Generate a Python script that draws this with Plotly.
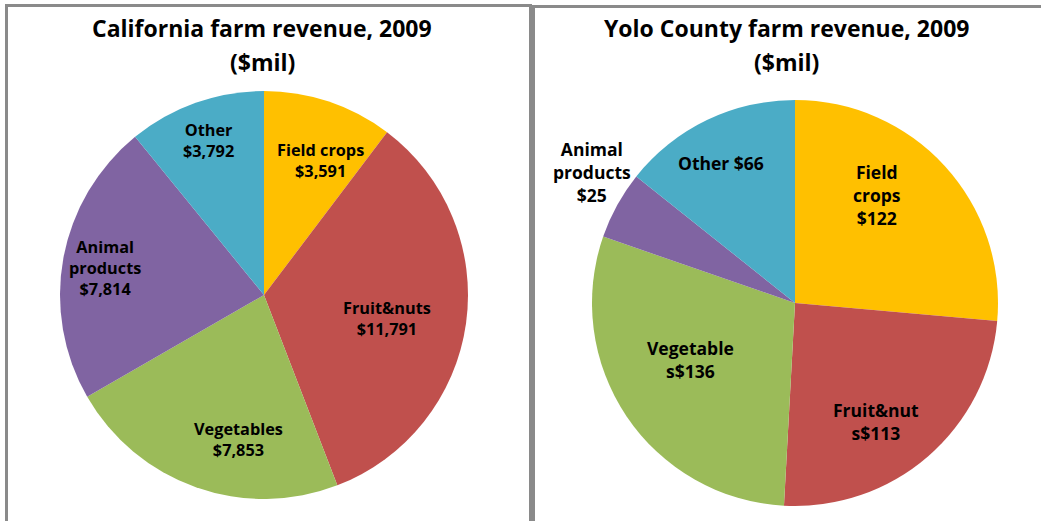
import plotly.graph_objects as go

# ---- data ----
ca_categories = ["Field crops", "Fruit&nuts", "Vegetables", "Animal products", "Other"]
ca_values = [3591, 11791, 7853, 7814, 3792]
ca_label_text = ["Field crops<br>", "Fruit&nuts<br>", "Vegetables<br>", "Animal<br>products<br>", "Other<br>"]

yolo_categories = ["Field crops", "Fruit&nuts", "Vegetables", "Animal products", "Other"]
yolo_values = [122, 113, 136, 25, 66]
yolo_label_text = ["Field<br>crops<br>", "Fruit&nut<br>s", "Vegetable<br>s", "Animal<br>products<br>", "Other "]

colors = ["#FFC000", "#C0504D", "#9BBB59", "#8064A2", "#4BACC6"]

ca_title_lines = ["California farm revenue, 2009", "($mil)"]
yolo_title_lines = ["Yolo County farm revenue, 2009", "($mil)"]

W, H = 1041, 521
FONT = "Open Sans"

def px(x):
    return x / W

def py(y):
    return 1 - y / H

def domain(cx, cy, r):
    return dict(x=[px(cx - r), px(cx + r)], y=[py(cy + r), py(cy - r)])

fig = go.Figure()
fig.add_trace(go.Pie(
    labels=ca_categories, values=ca_values, sort=False, direction="clockwise",
    rotation=0, marker=dict(colors=colors, line=dict(width=0)),
    textinfo="none", showlegend=False, domain=domain(264, 295, 204),
))
fig.add_trace(go.Pie(
    labels=yolo_categories, values=yolo_values, sort=False, direction="clockwise",
    rotation=0, marker=dict(colors=colors, line=dict(width=0)),
    textinfo="none", showlegend=False, domain=domain(795, 303, 203),
))

annotations = []
# titles (two lines each)
for lines, cx in ((ca_title_lines, 262), (yolo_title_lines, 786)):
    for line, cy in zip(lines, (28, 62)):
        annotations.append(dict(x=px(cx), y=py(cy), text=line, showarrow=False,
                                xref="paper", yref="paper", xanchor="center", yanchor="middle",
                                font=dict(family=FONT, size=23, color="black", weight="bold")))

# slice label placements (pixel centers)
ca_label_pos = [(320, 161), (387, 318), (238, 439), (105, 268), (208, 140)]
yolo_label_pos = [(877, 195), (876, 421), (690, 359), (592, 172), (721, 163)]

for lbl, v, (x, y) in zip(ca_label_text, ca_values, ca_label_pos):
    annotations.append(dict(x=px(x), y=py(y), text=f"{lbl}${v:,}", showarrow=False,
                            xref="paper", yref="paper", xanchor="center", yanchor="middle",
                            font=dict(family=FONT, size=16.3, color="black", weight="bold")))
for lbl, v, (x, y) in zip(yolo_label_text, yolo_values, yolo_label_pos):
    annotations.append(dict(x=px(x), y=py(y), text=f"{lbl}${v:,}", showarrow=False,
                            xref="paper", yref="paper", xanchor="center", yanchor="middle",
                            font=dict(family=FONT, size=17.5, color="black", weight="bold")))

shapes = [
    dict(type="rect", xref="paper", yref="paper", x0=px(6.5), x1=px(530.5), y0=py(530), y1=py(5.5),
         line=dict(color="#8A8A8A", width=3), fillcolor="rgba(0,0,0,0)", layer="above"),
    dict(type="rect", xref="paper", yref="paper", x0=px(533.5), x1=px(1060), y0=py(530), y1=py(6.5),
         line=dict(color="#8A8A8A", width=3), fillcolor="rgba(0,0,0,0)", layer="above"),
]

fig.update_layout(
    width=W, height=H, margin=dict(l=0, r=0, t=0, b=0),
    paper_bgcolor="white", plot_bgcolor="white",
    annotations=annotations, shapes=shapes,
)

fig.write_html("out.html", config={"displayModeBar": False},
               post_script="document.body.style.margin='0';document.body.style.overflow='hidden';")
